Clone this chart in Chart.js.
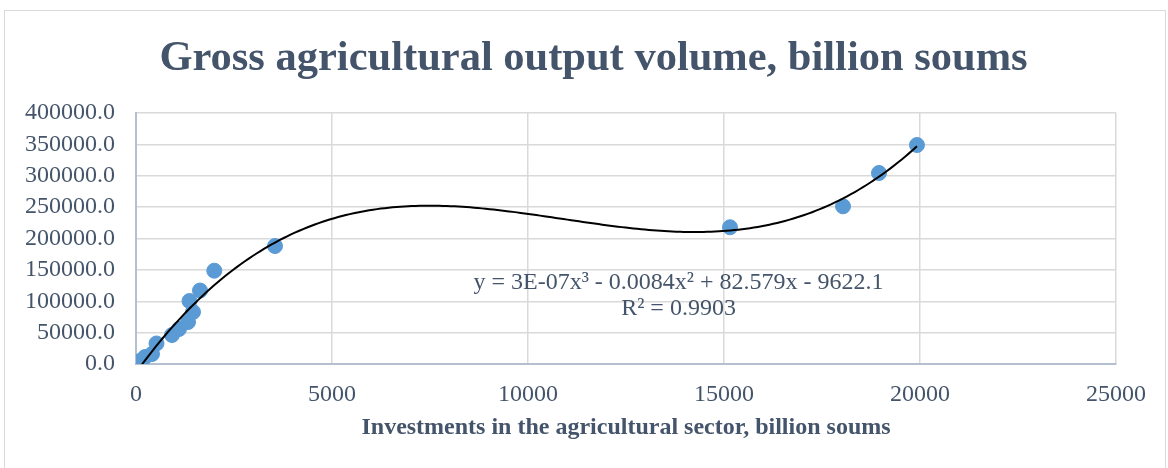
<!DOCTYPE html>
<html>
<head>
<meta charset="utf-8">
<title>Gross agricultural output volume</title>
<script src="https://cdn.jsdelivr.net/npm/chart.js@4/dist/chart.umd.min.js"></script>
<style>
  html, body { margin: 0; padding: 0; background: #fff; }
  canvas { display: block; }
</style>
</head>
<body>
<canvas id="myChart" width="1168" height="468"></canvas>
<script>
// investments in agriculture (x) vs gross agricultural output (y), billion soums
// values are read off the picture
let investments = [102, 230, 408, 523, 918, 1097, 1327, 1454, 1365, 1633, 1997, 3546, 15153, 18036, 18954, 19923];
let grossOutput = [4800, 11150, 15900, 32700, 46200, 55800, 66900, 82900, 100400, 117100, 148700, 188000, 217900, 251300, 304400, 349000];

let xTicks = [0, 5000, 10000, 15000, 20000, 25000];
let yTicks = [0, 50000, 100000, 150000, 200000, 250000, 300000, 350000, 400000];

let chartTitle = 'Gross agricultural output volume, billion soums';
let xTitle = 'Investments in the agricultural sector, billion soums';
let trendText = ['y = 3E-07x³ - 0.0084x² + 82.579x - 9622.1', 'R² = 0.9903'];
let trendTextAt = [13840, 129000]; // data units where the equation sits

const textColor = '#44546A';
const serif = "'Liberation Serif', 'Times New Roman', serif";

// cubic (poly, order 3) least squares trendline, the way Excel does it
function fitCubic(xs, ys) {
    let s = 10000; // scale x so the normal equations stay sane
    let n = 4;
    let A = [];
    for (let i = 0; i < n; i++) {
        A.push([0, 0, 0, 0, 0]);
    }
    for (let k = 0; k < xs.length; k++) {
        let x = xs[k] / s;
        for (let i = 0; i < n; i++) {
            for (let j = 0; j < n; j++) {
                A[i][j] += Math.pow(x, i + j);
            }
            A[i][n] += Math.pow(x, i) * ys[k];
        }
    }
    // gauss elimination
    for (let i = 0; i < n; i++) {
        let p = i;
        for (let r = i + 1; r < n; r++) {
            if (Math.abs(A[r][i]) > Math.abs(A[p][i])) p = r;
        }
        let tmp = A[i]; A[i] = A[p]; A[p] = tmp;
        for (let r = i + 1; r < n; r++) {
            let f = A[r][i] / A[i][i];
            for (let c = i; c <= n; c++) A[r][c] -= f * A[i][c];
        }
    }
    let coef = [0, 0, 0, 0];
    for (let i = n - 1; i >= 0; i--) {
        let sum = A[i][n];
        for (let c = i + 1; c < n; c++) sum -= A[i][c] * coef[c];
        coef[i] = sum / A[i][i];
    }
    return function(xv) {
        let x = xv / s;
        return coef[0] + coef[1] * x + coef[2] * x * x + coef[3] * x * x * x;
    };
}

let trend = fitCubic(investments, grossOutput);
let xMin = Math.min(...investments);
let xMax = Math.max(...investments);
let trendPoints = [];
for (let i = 0; i <= 200; i++) {
    let xv = xMin + (xMax - xMin) * i / 200;
    trendPoints.push({ x: xv, y: trend(xv) });
}

let scatterPoints = investments.map((v, i) => ({ x: v, y: grossOutput[i] }));

// white page + thin frame around the whole chart object
const frame = {
    id: 'frame',
    afterLayout(chart) {
        // title in the original sits centred on the frame, not the plot
        if (chart.titleBlock) {
            chart.titleBlock.left = 71;
        }
    },
    beforeDraw(chart) {
        const ctx = chart.ctx;
        ctx.save();
        ctx.fillStyle = '#fff';
        ctx.fillRect(0, 0, chart.width, chart.height);
        ctx.strokeStyle = '#d9d9d9';
        ctx.lineWidth = 1;
        ctx.strokeRect(4.5, 10.5, 1161, 500);
        ctx.restore();
    }
};

// trendline equation and R squared
const trendLabel = {
    id: 'trendLabel',
    afterDatasetsDraw(chart) {
        const ctx = chart.ctx;
        const px = chart.scales.x.getPixelForValue(trendTextAt[0]);
        const py = chart.scales.y.getPixelForValue(trendTextAt[1]);
        ctx.save();
        ctx.font = '24px ' + serif;
        ctx.fillStyle = textColor;
        ctx.textAlign = 'center';
        ctx.textBaseline = 'middle';
        trendText.forEach((t, i) => {
            ctx.fillText(t, px, py + i * 26);
        });
        ctx.restore();
    }
};

Chart.defaults.font.family = serif;
Chart.defaults.color = textColor;

const data = {
    datasets: [{
        label: 'Trend',
        data: trendPoints,
        showLine: true,
        borderColor: '#000',
        borderWidth: 2,
        pointRadius: 0,
        fill: false,
        order: 1
    }, {
        label: 'Gross output',
        data: scatterPoints,
        backgroundColor: '#5B9BD5',
        borderColor: '#5B9BD5',
        borderWidth: 1,
        pointRadius: 7.5,
        order: 2
    }]
};

const config = {
    type: 'scatter',
    data: data,
    plugins: [frame, trendLabel],
    options: {
        responsive: false,
        animation: false,
        devicePixelRatio: 1,
        layout: {
            padding: { left: 0, right: 52, top: 0, bottom: 0 }
        },
        plugins: {
            legend: { display: false },
            tooltip: { enabled: false },
            title: {
                display: true,
                text: chartTitle,
                color: textColor,
                font: { size: 42.5, weight: 'bold' },
                padding: { top: 34, bottom: 28 }
            }
        },
        scales: {
            x: {
                type: 'linear',
                min: xTicks[0],
                max: xTicks[xTicks.length - 1],
                ticks: {
                    stepSize: xTicks[1] - xTicks[0],
                    color: textColor,
                    font: { size: 24 },
                    padding: 16,
                    maxRotation: 0,
                    autoSkip: false,
                    callback: v => String(v)
                },
                grid: { color: '#d9d9d9', lineWidth: 1.5, drawTicks: false },
                border: { color: '#b4bfcf', width: 2 },
                title: {
                    display: true,
                    text: xTitle,
                    color: textColor,
                    font: { size: 24, weight: 'bold' },
                    padding: { top: 0, bottom: 26 }
                },
                afterFit(scale) {
                    scale.height = 104;
                }
            },
            y: {
                type: 'linear',
                min: yTicks[0],
                max: yTicks[yTicks.length - 1],
                ticks: {
                    stepSize: yTicks[1] - yTicks[0],
                    color: textColor,
                    font: { size: 24 },
                    padding: 21,
                    autoSkip: false,
                    callback: v => v.toFixed(1)
                },
                grid: { color: '#d9d9d9', lineWidth: 1.5, drawTicks: false },
                border: { color: '#b4bfcf', width: 2 },
                afterFit(scale) {
                    scale.width = 136;
                }
            }
        }
    }
};

const myChart = new Chart(document.getElementById('myChart'), config);
</script>
</body>
</html>
